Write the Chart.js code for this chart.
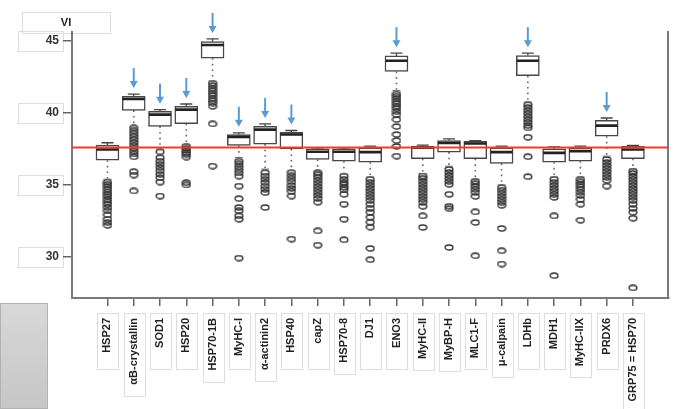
<!DOCTYPE html>
<html><head><meta charset="utf-8">
<style>
html,body{margin:0;padding:0;background:#fff;overflow:hidden}
#wrap{position:relative;width:682px;height:409px}
#gray{position:absolute;left:0;top:303px;width:48px;height:106px;background:linear-gradient(#d8d8d8,#c6c6c6);border:1px solid #b2b2b2;box-sizing:border-box}
</style>
<script src="https://cdn.jsdelivr.net/npm/chart.js@4"></script>
</head><body>
<div id="wrap"><canvas id="c" width="682" height="409"></canvas><div id="gray"></div></div>
<script>
const axisTitle = 'VI';
const categories = ['HSP27','αB-crystallin','SOD1','HSP20','HSP70-1B','MyHC-I','α-actinin2','HSP40','capZ','HSP70-8','DJ1','ENO3','MyHC-II','MyBP-H','MLC1-F','μ-calpain','LDHb','MDH1','MyHC-IIX','PRDX6','GRP75 = HSP70'];
const whiskerHigh = [37.93,41.31,40.23,40.62,45.14,38.62,39.24,38.78,37.58,37.58,37.69,44.15,37.76,38.20,38.08,37.69,44.15,37.65,37.69,39.65,37.74];
const q3 =          [37.76,41.15,40.11,40.46,44.95,38.50,39.07,38.66,37.51,37.51,37.58,43.96,37.69,38.08,38.02,37.58,43.98,37.51,37.58,39.49,37.69];
const median =      [37.46,40.97,39.88,40.23,44.72,38.34,38.84,38.50,37.30,37.30,37.28,43.62,37.58,37.91,37.88,37.28,43.62,37.23,37.35,39.12,37.46];
const q1 =          [36.72,40.18,39.07,39.26,43.80,37.74,37.84,37.51,36.77,36.65,36.58,42.88,36.82,37.28,36.82,36.50,42.58,36.58,36.65,38.38,36.82];
const whiskerLow =  [35.40,39.00,37.45,37.80,42.20,36.90,36.10,36.00,35.95,35.75,35.55,41.55,35.80,36.30,35.40,35.00,40.75,35.55,35.55,37.00,36.10];
const outliers = [
  [35.2,35.04,34.88,34.7,34.51,34.35,34.19,34.0,33.82,33.64,33.43,33.2,32.92,32.62,32.39,32.2],
  [38.96,38.75,38.55,38.35,38.15,37.95,37.75,37.55,37.35,37.15,36.95,35.92,35.69,34.58],
  [37.30,36.89,36.65,36.43,36.2,35.97,35.73,35.5,35.2,34.23],
  [37.69,37.53,37.39,37.25,37.12,36.94,35.16,35.0],
  [42.07,41.89,41.72,41.54,41.37,41.20,41.02,40.85,40.69,40.46,39.24,36.31],
  [36.65,36.46,36.25,36.04,35.83,35.61,34.92,34.05,33.43,33.2,32.85,32.62,29.92],
  [35.85,35.62,35.39,35.16,34.92,34.70,34.47,33.43],
  [35.85,35.63,35.42,35.21,34.97,34.76,34.56,34.23,31.24],
  [35.85,35.70,35.53,35.32,35.11,34.90,34.70,34.49,34.28,34.07,33.80,31.81,30.82],
  [35.62,35.39,35.18,35.01,34.83,34.66,34.35,33.66,32.62,31.19],
  [35.39,35.18,34.97,34.76,34.56,34.35,34.14,33.93,33.66,33.38,33.10,32.76,32.41,32.07,30.59,29.81],
  [41.31,41.16,40.99,40.82,40.64,40.47,40.30,40.09,39.88,39.54,39.05,38.50,38.08,37.67,37.0],
  [35.62,35.46,35.25,35.04,34.83,34.63,34.42,34.21,34.0,33.80,33.52,32.85,32.05],
  [36.08,35.87,35.66,35.46,35.25,35.04,34.35,33.52,33.35,30.66],
  [35.25,35.08,34.90,34.70,34.49,34.21,33.13,32.39,30.08],
  [34.81,34.63,34.42,34.21,34.0,33.80,33.59,31.98,30.43,29.51],
  [40.57,40.37,40.16,39.95,39.74,39.54,39.33,39.12,38.96,38.31,36.96,35.57],
  [35.39,35.18,34.97,34.76,34.56,34.35,34.14,32.85,28.70],
  [35.39,35.21,35.04,34.87,34.70,34.49,34.28,34.0,33.66,32.55],
  [36.77,36.56,36.35,36.15,35.94,35.73,35.53,35.32,34.92],
  [35.96,35.80,35.59,35.39,35.18,34.97,34.76,34.56,34.35,34.14,33.93,33.66,33.38,33.10,32.69,27.85]
];
const arrowCats = [1,2,3,4,5,6,7,11,16,19];
const referenceLine = 37.6;
const yTicks = [30,35,40,45];
const Y_MIN = 27.15, Y_MAX = 45.62;
const X_MIN = -1.35, X_MAX = 21.35;

const FONT = '"Liberation Sans", Arial, sans-serif';
const idx = categories.map((_, i) => i);
const boxData = idx.map(i => ({x: i, y: [q1[i], q3[i]]}));
const medianData = idx.map(i => ({x: i, y: median[i]}));
const capHighData = idx.map(i => ({x: i, y: whiskerHigh[i]}));
const capLowData = idx.map(i => ({x: i, y: whiskerLow[i]}));
const upperSeg = [], lowerSeg = [];
idx.forEach(i => {
  upperSeg.push({x: i, y: q3[i]}, {x: i, y: whiskerHigh[i]}, {x: i, y: null});
  lowerSeg.push({x: i, y: q1[i]}, {x: i, y: whiskerLow[i]}, {x: i, y: null});
});
const outlierData = [];
outliers.forEach((arr, i) => arr.forEach(v => outlierData.push({x: i, y: v})));
const refData = [{x: X_MIN, y: referenceLine}, {x: X_MAX, y: referenceLine}];

// elliptical outlier marker
const ell = document.createElement('canvas');
ell.width = 10; ell.height = 7;
(function(){ const g = ell.getContext('2d'); g.strokeStyle = '#333'; g.lineWidth = 1.35;
  g.beginPath(); g.ellipse(5, 3.5, 3.9, 2.5, 0, 0, Math.PI * 2); g.stroke(); })();

const labelBoxes = {
  id: 'labelBoxes',
  beforeDraw(chart) {
    const {ctx, scales: {x, y}} = chart;
    ctx.save();
    ctx.fillStyle = '#fff'; ctx.strokeStyle = '#dedede'; ctx.lineWidth = 1;
    ctx.font = 'bold 11px ' + FONT;
    x.ticks.forEach(t => {
      const px = Math.round(x.getPixelForValue(t.value));
      const w = ctx.measureText(categories[t.value]).width;
      const h = Math.round(Math.max(56, w + 16));
      ctx.fillRect(px - 10, x.top + 15, 21, h);
      ctx.strokeRect(px - 10 + 0.5, x.top + 15.5, 21, h);
    });
    y.ticks.forEach(t => {
      const py = Math.round(y.getPixelForValue(t.value));
      ctx.strokeRect(18.5, py - 9.5, 45, 20);
    });
    ctx.strokeRect(22.5, 12.5, 88, 21);
    ctx.fillStyle = '#222'; ctx.textAlign = 'center'; ctx.textBaseline = 'middle';
    ctx.font = 'bold 11px ' + FONT;
    ctx.fillText(axisTitle, 66, 23);
    ctx.restore();
  }
};
const arrows = {
  id: 'arrows',
  afterDatasetsDraw(chart) {
    const {ctx, scales: {x, y}} = chart;
    ctx.save();
    ctx.strokeStyle = '#5b9bd5'; ctx.fillStyle = '#5b9bd5'; ctx.lineWidth = 2;
    arrowCats.forEach(i => {
      const px = x.getPixelForValue(i);
      const tip = y.getPixelForValue(whiskerHigh[i]) - 6;
      const tail = tip - 20;
      ctx.beginPath(); ctx.moveTo(px, tail); ctx.lineTo(px, tip - 5); ctx.stroke();
      ctx.beginPath(); ctx.moveTo(px - 4, tip - 7); ctx.lineTo(px + 4, tip - 7); ctx.lineTo(px, tip); ctx.closePath(); ctx.fill();
    });
    ctx.restore();
  }
};

const axisColor = '#7a7a7a';
new Chart(document.getElementById('c'), {
  type: 'bar',
  data: {
    datasets: [
      {type: 'line', data: refData, borderColor: '#f23a32', borderWidth: 2, pointRadius: 0, order: 0},
      {type: 'scatter', data: medianData, pointStyle: 'line', pointRadius: 11, pointBorderWidth: 2.6, pointBorderColor: '#222', order: 1},
      {type: 'scatter', data: capHighData, pointStyle: 'line', pointRadius: 6, pointBorderWidth: 1.3, pointBorderColor: '#444', order: 2},
      {type: 'scatter', data: capLowData, pointStyle: 'line', pointRadius: 4, pointBorderWidth: 1, pointBorderColor: '#666', order: 2},
      {type: 'bar', data: boxData, backgroundColor: '#fff', borderColor: '#474747', borderWidth: 1.5, borderSkipped: false, barThickness: 23, order: 3},
      {type: 'line', data: upperSeg, borderColor: '#444', borderWidth: 1.3, pointRadius: 0, spanGaps: false, order: 4},
      {type: 'line', data: lowerSeg, borderColor: '#666', borderWidth: 1.6, borderDash: [1.6, 4], pointRadius: 0, spanGaps: false, order: 4},
      {type: 'scatter', data: outlierData, pointStyle: ell, pointRadius: 4, order: 5}
    ]
  },
  options: {
    responsive: false, animation: false, events: [],
    layout: {padding: {left: 0, top: 32, right: 10, bottom: 0}},
    plugins: {legend: {display: false}, tooltip: {enabled: false}, title: {display: false}},
    scales: {
      x: {
        type: 'linear', min: X_MIN, max: X_MAX, offset: false,
        afterBuildTicks: s => { s.ticks = idx.map(v => ({value: v})); },
        afterFit: s => { s.height = 111; },
        grid: {drawOnChartArea: false, drawTicks: true, tickLength: 8, color: '#666', lineWidth: 1.5, offset: false},
        border: {display: true, color: axisColor, width: 2},
        ticks: {autoSkip: false, minRotation: 90, maxRotation: 90, padding: 12, color: '#222',
          font: {family: FONT, size: 11, weight: 'bold'}, callback: v => categories[v]}
      },
      y: {
        type: 'linear', min: Y_MIN, max: Y_MAX,
        afterBuildTicks: s => { s.ticks = yTicks.map(v => ({value: v})); },
        afterFit: s => { s.width = 72; },
        grid: {drawOnChartArea: false, drawTicks: true, tickLength: 9, color: '#666', lineWidth: 1.5},
        border: {display: true, color: axisColor, width: 2},
        ticks: {padding: 4, color: '#333', font: {family: FONT, size: 12, weight: 'bold'}}
      },
      y2: {
        type: 'linear', position: 'right', min: 0, max: 1,
        afterFit: s => { s.width = 0; },
        grid: {drawOnChartArea: false, drawTicks: false},
        border: {display: true, color: axisColor, width: 2},
        ticks: {display: false}
      }
    }
  },
  plugins: [labelBoxes, arrows]
});
</script>
</body></html>
